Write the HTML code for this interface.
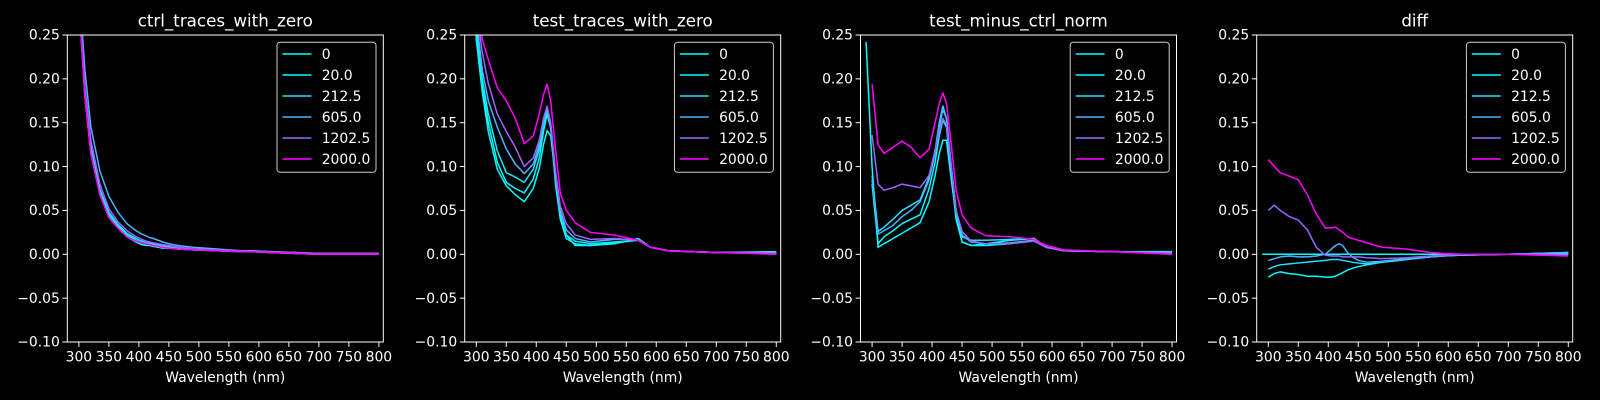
<!DOCTYPE html>
<html><head><meta charset="utf-8"><style>
html,body{margin:0;padding:0;background:#000;}
svg{display:block;font-family:"DejaVu Sans","Liberation Sans",sans-serif;}
</style></head><body>
<svg id="fig" width="1600" height="400" viewBox="0 0 1600 400" xmlns="http://www.w3.org/2000/svg">
<rect x="0" y="0" width="1600" height="400" fill="#000"/>
</svg>
<script>
const titles = ["ctrl_traces_with_zero","test_traces_with_zero","test_minus_ctrl_norm","diff"];
const seriesLabels = ["0","20.0","212.5","605.0","1202.5","2000.0"];
const concentrations = [0,20,212.5,605,1202.5,2000];
const wavelengths = [290,300,310,320,335,350,365,380,395,405,412,418,424,432,440,450,465,490,530,570,590,620,700,800];
const yTicks = [-0.10,-0.05,0.00,0.05,0.10,0.15,0.20,0.25];
const xTicks = [300,350,400,450,500,550,600,650,700,750,800];

const ctrl0    = [0.4,0.29,0.18,0.115,0.068,0.042,0.03,0.02,0.014,0.011,0.01,0.01,0.009,0.008,0.007,0.007,0.006,0.005,0.004,0.003,0.003,0.002,0.0,0.001];
const ctrl20   = [0.4,0.29,0.182,0.118,0.071,0.045,0.032,0.022,0.016,0.013,0.012,0.012,0.011,0.01,0.009,0.008,0.007,0.005,0.004,0.003,0.003,0.002,0.0,0.001];
const ctrl212  = [0.4,0.295,0.185,0.122,0.074,0.048,0.034,0.024,0.018,0.015,0.014,0.013,0.012,0.011,0.01,0.009,0.008,0.006,0.005,0.004,0.003,0.002,0.001,0.001];
const ctrl605  = [0.4,0.31,0.21,0.145,0.095,0.066,0.048,0.035,0.027,0.023,0.021,0.019,0.018,0.016,0.014,0.012,0.01,0.008,0.006,0.004,0.004,0.003,0.001,0.001];
const ctrl1202 = [0.4,0.3,0.19,0.13,0.08,0.052,0.037,0.027,0.02,0.017,0.015,0.014,0.013,0.012,0.011,0.01,0.008,0.006,0.005,0.004,0.003,0.003,0.001,0.001];
const ctrl2000 = [0.4,0.29,0.18,0.115,0.068,0.042,0.03,0.02,0.015,0.013,0.012,0.011,0.01,0.009,0.008,0.007,0.006,0.005,0.004,0.003,0.003,0.002,0.0,0.0];

const test0    = [0.4,0.245,0.185,0.14,0.097,0.078,0.068,0.06,0.075,0.098,0.125,0.141,0.135,0.09,0.05,0.022,0.01,0.01,0.012,0.018,0.008,0.004,0.002,0.003];
const test20   = [0.4,0.25,0.19,0.15,0.105,0.082,0.075,0.07,0.086,0.11,0.14,0.16,0.144,0.08,0.04,0.018,0.012,0.01,0.013,0.016,0.008,0.004,0.002,0.002];
const test212  = [0.4,0.26,0.2,0.16,0.118,0.093,0.088,0.082,0.097,0.12,0.148,0.165,0.146,0.085,0.045,0.022,0.015,0.012,0.014,0.016,0.008,0.004,0.002,0.002];
const test605  = [0.4,0.27,0.21,0.175,0.145,0.12,0.103,0.092,0.103,0.125,0.152,0.167,0.148,0.09,0.05,0.028,0.018,0.014,0.017,0.017,0.008,0.004,0.002,0.002];
const test1202 = [0.4,0.28,0.23,0.195,0.16,0.14,0.122,0.1,0.11,0.13,0.155,0.169,0.15,0.095,0.055,0.035,0.022,0.017,0.018,0.016,0.008,0.004,0.002,0.001];
const test2000 = [0.4,0.3,0.245,0.222,0.19,0.175,0.155,0.126,0.135,0.16,0.182,0.194,0.175,0.12,0.07,0.05,0.036,0.025,0.022,0.016,0.008,0.004,0.002,0.0];

const norm0    = [0.242,0.1,0.008,0.012,0.018,0.024,0.03,0.036,0.06,0.09,0.115,0.13,0.13,0.085,0.045,0.014,0.01,0.012,0.016,0.018,0.008,0.004,0.003,0.003];
const norm20   = [null,0.08,0.012,0.02,0.027,0.035,0.04,0.045,0.075,0.105,0.135,0.153,0.145,0.09,0.04,0.014,0.01,0.01,0.012,0.016,0.008,0.004,0.003,0.002];
const norm212  = [null,0.09,0.026,0.031,0.04,0.05,0.056,0.062,0.088,0.118,0.15,0.169,0.155,0.1,0.05,0.02,0.016,0.016,0.017,0.018,0.008,0.004,0.003,0.002];
const norm605  = [null,0.085,0.023,0.027,0.033,0.043,0.05,0.06,0.085,0.115,0.145,0.165,0.155,0.1,0.05,0.022,0.014,0.012,0.013,0.016,0.008,0.004,0.003,0.002];
const norm1202 = [null,0.136,0.08,0.073,0.076,0.08,0.078,0.076,0.09,0.119,0.14,0.155,0.148,0.1,0.05,0.026,0.015,0.012,0.012,0.015,0.008,0.004,0.003,0.001];
const norm2000 = [null,0.194,0.125,0.115,0.122,0.129,0.122,0.11,0.12,0.15,0.172,0.184,0.172,0.125,0.073,0.045,0.03,0.021,0.02,0.017,0.01,0.005,0.003,0.0];

const diff0    = [0,0,0,0,0,0,0,0,0,0,0,0,0,0,0,0,0,0,0,0,0,0,0,0];
const diff20   = [null,-0.026,-0.022,-0.02,-0.022,-0.023,-0.025,-0.025,-0.026,-0.026,-0.025,-0.023,-0.021,-0.018,-0.016,-0.014,-0.012,-0.009,-0.006,-0.003,-0.002,-0.001,0,0.002];
const diff212  = [null,-0.017,-0.014,-0.012,-0.011,-0.01,-0.009,-0.008,-0.007,-0.006,-0.006,-0.006,-0.007,-0.008,-0.009,-0.01,-0.011,-0.009,-0.006,-0.003,-0.002,-0.001,0,0.002];
const diff605  = [null,-0.007,-0.005,-0.003,-0.002,-0.003,-0.003,-0.002,0,0.006,0.01,0.012,0.01,0.002,-0.003,-0.007,-0.009,-0.008,-0.005,-0.003,-0.002,-0.001,0,0.002];
const diff1202 = [null,0.05,0.056,0.05,0.043,0.039,0.028,0.008,-0.001,-0.002,-0.002,-0.002,-0.003,-0.003,-0.003,-0.003,-0.004,-0.005,-0.004,-0.002,-0.001,0,0,-0.001];
const diff2000 = [null,0.108,0.1,0.093,0.089,0.085,0.068,0.046,0.03,0.03,0.031,0.028,0.025,0.02,0.018,0.016,0.013,0.008,0.006,0.002,0.001,0,0,-0.002];

const panelData = [
  [ctrl0,ctrl20,ctrl212,ctrl605,ctrl1202,ctrl2000],
  [test0,test20,test212,test605,test1202,test2000],
  [norm0,norm20,norm212,norm605,norm1202,norm2000],
  [diff0,diff20,diff212,diff605,diff1202,diff2000]
];

const NS = "http://www.w3.org/2000/svg";
const fig = document.getElementById('fig');
const lefts = [67.3, 464.7, 860.5, 1256.7];
const W = 316, TOP = 35, BOT = 342;
const XMIN = 280.7, XMAX = XMIN + W/0.6, YMIN = -0.1, YMAX = 0.25;
function col(v){const t=v/2000;return `rgb(${Math.round(t*255)},${Math.round((1-t)*255)},255)`;}
function mk(tag, attrs, parent){const e=document.createElementNS(NS,tag);for(const k in attrs)e.setAttribute(k,attrs[k]);(parent||fig).appendChild(e);return e;}
const defs = mk('defs',{});

panelData.forEach((series, p) => {
  const L = lefts[p];
  const sx = v => L + (v - XMIN) / (XMAX - XMIN) * W;
  const sy = v => BOT - (v - YMIN) / (YMAX - YMIN) * (BOT - TOP);
  const g = mk('g',{});
  
  
  const cp = mk('clipPath',{id:'clip'+p},defs);
  mk('rect',{x:L,y:TOP,width:W,height:BOT-TOP},cp);

  const lines = mk('g',{'clip-path':`url(#clip${p})`},g);
  
  
  series.forEach((vals, i) => {
    let d = '';
    let pen = false;
    vals.forEach((v, j) => {
      if (v === null) { pen = false; return; }
      d += (pen ? 'L' : 'M') + sx(wavelengths[j]).toFixed(2) + ' ' + sy(v).toFixed(2);
      pen = true;
    });
    const path = mk('path',{d:d,fill:'none',stroke:col(concentrations[i]),'stroke-width':1.5,'stroke-linejoin':'round'},lines);
    
    
  });

  const frame = mk('rect',{x:L,y:TOP,width:W,height:BOT-TOP,fill:'none',stroke:'#fff','stroke-width':1},g);
  
  

  yTicks.forEach(t => {
    const y = sy(t);
    mk('line',{x1:L-4.9,x2:L,y1:y,y2:y,stroke:'#fff','stroke-width':1},g);
    const tx = mk('text',{x:L-7.5,y:y+4.7,'text-anchor':'end',fill:'#fff','font-size':13.9},g);
    tx.textContent = t.toFixed(2).replace('-','\u2212');
    
    
  });
  xTicks.forEach(t => {
    const x = sx(t);
    mk('line',{x1:x,x2:x,y1:BOT,y2:BOT+4.9,stroke:'#fff','stroke-width':1},g);
    const tx = mk('text',{x:x,y:BOT+19.5,'text-anchor':'middle',fill:'#fff','font-size':13.9},g);
    tx.textContent = t;
    
    
  });
  const xl = mk('text',{x:L+W/2,y:BOT+40,'text-anchor':'middle',fill:'#fff','font-size':13.9},g);
  xl.textContent = 'Wavelength (nm)';
  
  
  const ti = mk('text',{x:L+W/2,y:26.5,'text-anchor':'middle',fill:'#fff','font-size':16.7},g);
  ti.textContent = titles[p];
  
  

  // legend
  const lg = mk('g',{},g);
  
  
  const lx = L + W - 7.3 - 99, ly = TOP + 7.3;
  mk('rect',{x:lx,y:ly,width:99,height:130,rx:3,fill:'#000','fill-opacity':0.8,stroke:'#cccccc','stroke-width':1},lg);
  seriesLabels.forEach((lab, i) => {
    const y = ly + 11.7 + i*21;
    const ent = mk('g',{},lg);
    
    
    mk('line',{x1:lx+5.4,x2:lx+34.4,y1:y,y2:y,stroke:col(concentrations[i]),'stroke-width':1.5},ent);
    const tx = mk('text',{x:lx+44.7,y:y+4.8,fill:'#fff','font-size':13.9},ent);
    tx.textContent = lab;
  });
});
</script>
</body></html>
